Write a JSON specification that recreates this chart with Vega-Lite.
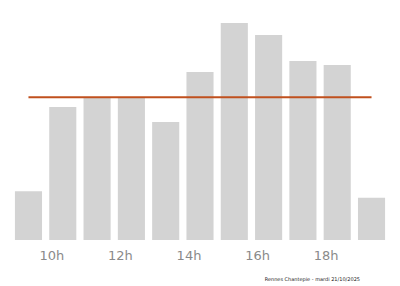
{
  "$schema": "https://vega.github.io/schema/vega-lite/v6.json",
  "autosize": {"type": "none"},
  "padding": {"left": 0, "top": 0, "right": 0, "bottom": 46},
  "width": 400,
  "height": 240,
  "background": "white",
  "config": {"view": {"stroke": null}},
  "title": {
    "text": "Rennes Chantepie - mardi 21/10/2025",
    "orient": "bottom",
    "anchor": "end",
    "fontSize": 5,
    "fontWeight": "normal",
    "font": "DejaVu Sans",
    "color": "#222222",
    "dx": -40,
    "offset": 15
  },
  "data": {
    "values": [
      {"hour": "9h", "value": 48.7},
      {"hour": "10h", "value": 133},
      {"hour": "11h", "value": 142},
      {"hour": "12h", "value": 142},
      {"hour": "13h", "value": 118},
      {"hour": "14h", "value": 168},
      {"hour": "15h", "value": 217},
      {"hour": "16h", "value": 205},
      {"hour": "17h", "value": 179},
      {"hour": "18h", "value": 175},
      {"hour": "19h", "value": 42.3}
    ]
  },
  "encoding": {
    "x": {
      "field": "hour",
      "type": "ordinal",
      "sort": null,
      "scale": {"paddingInner": 0.21, "paddingOuter": 0.435},
      "axis": {
        "title": null,
        "domain": false,
        "ticks": false,
        "grid": false,
        "labelAngle": 0,
        "values": ["10h", "12h", "14h", "16h", "18h"],
        "labelOffset": -11,
        "labelPadding": 9,
        "labelFont": "DejaVu Sans",
        "labelFontSize": 13,
        "labelColor": "#8a8a8a"
      }
    }
  },
  "layer": [
    {
      "mark": {"type": "bar", "color": "#d3d3d3"},
      "encoding": {
        "y": {"field": "value", "type": "quantitative", "scale": {"domain": [0, 240]}, "axis": null}
      }
    },
    {
      "transform": [{"joinaggregate": [{"op": "mean", "field": "value", "as": "avg"}]}],
      "mark": {"type": "line", "color": "#c0501e", "strokeWidth": 2},
      "encoding": {
        "y": {"field": "avg", "type": "quantitative"}
      }
    }
  ]
}
